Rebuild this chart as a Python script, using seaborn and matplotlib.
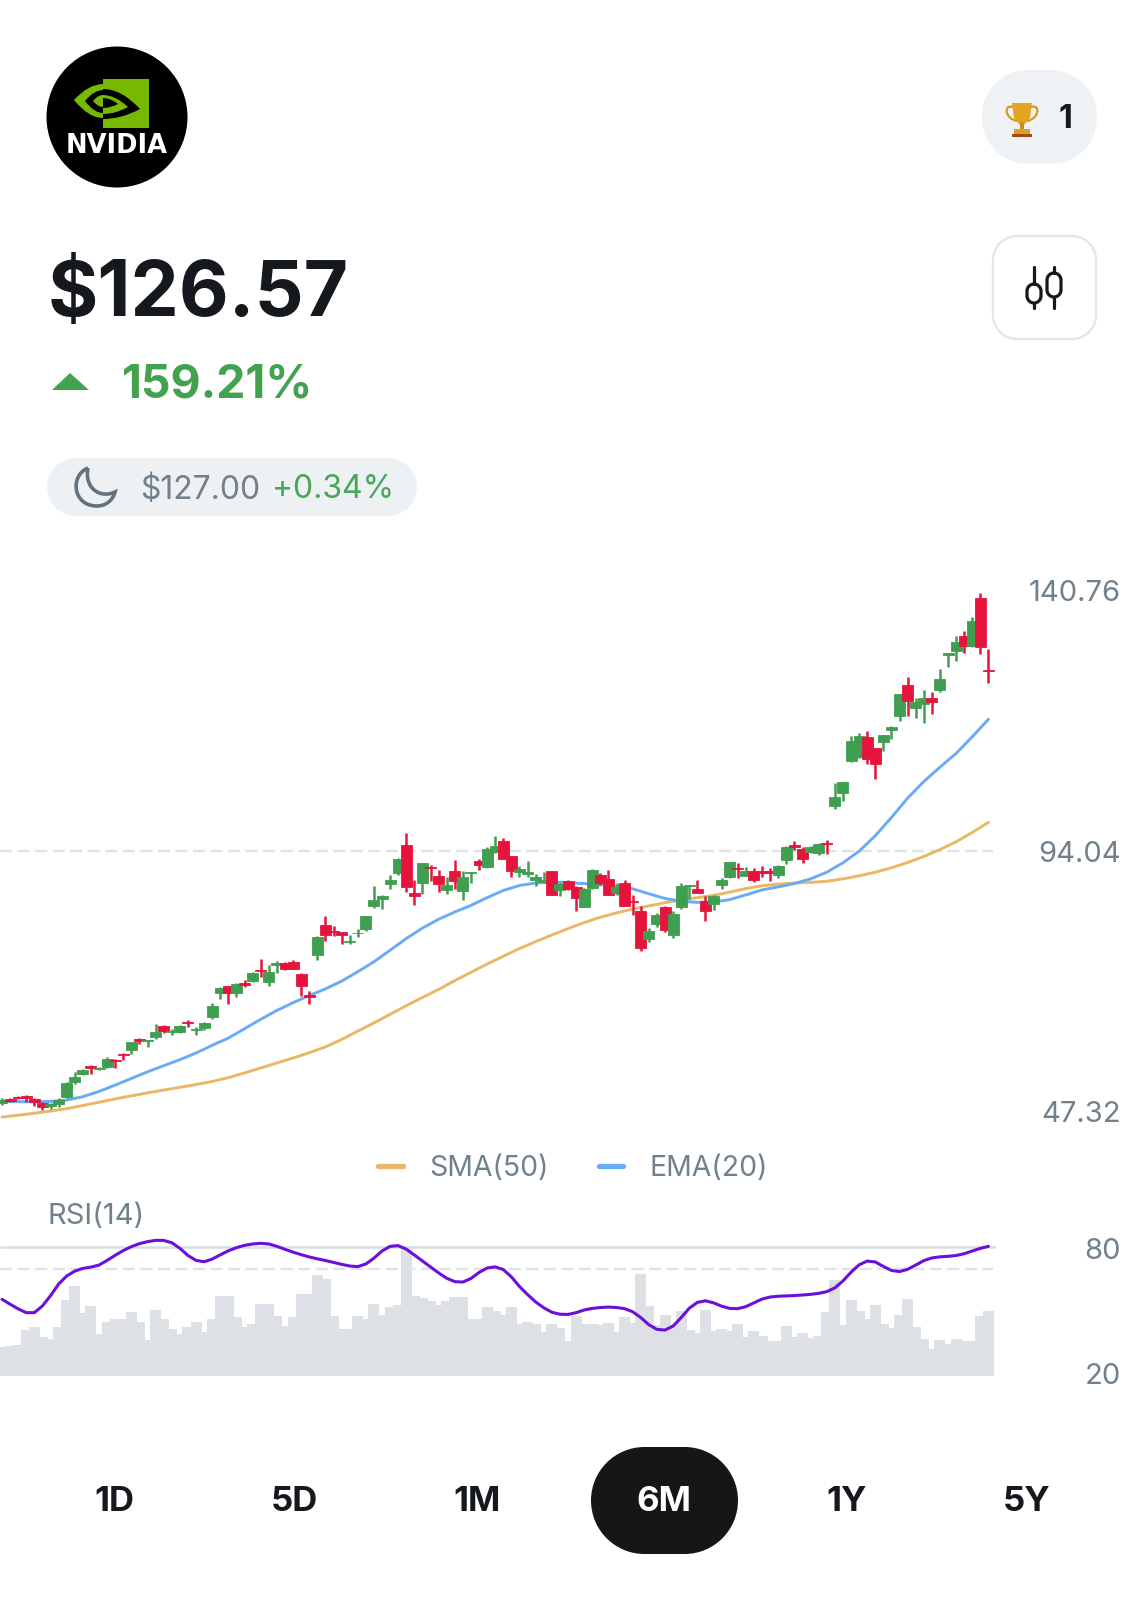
import numpy as np
import pandas as pd
import matplotlib
matplotlib.use("Agg")
from matplotlib import pyplot as plt
from matplotlib.patches import Circle, PathPatch, Polygon, Rectangle
from matplotlib.path import Path
from matplotlib.transforms import ScaledTranslation
import seaborn as sns

# daily candles, dollars
highs = [49.36, 49.36, 49.72, 49.91, 49.42, 48.7, 48.4, 49.42, 52.32, 54.13,
         54.55, 55.27, 55.03, 56.72, 56.36, 57.56, 59.55, 60.28, 59.85, 62.75,
         62.63, 61.78, 62.51, 63.47, 62.15, 63.17, 66.61, 69.38, 69.62, 70.16,
         70.71, 72.15, 74.57, 73.36, 74.2, 73.9, 74.33, 71.91, 68.78, 78.61,
         82.35, 80.48, 79.39, 78.91, 79.99, 82.35, 87.71, 86.02, 89.64, 92.72,
         97.36, 88.8, 91.93, 91.45, 90.61, 89.4, 92.36, 90.49, 90.31, 92.66,
         94.71, 96.76, 96.34, 93.2, 91.33, 92.23, 89.96, 90.31, 90.49, 88.32,
         88.8, 87.71, 87.29, 90.73, 90.12, 90.61, 88.19, 88.74, 86.14, 84.15,
         80.05, 82.77, 84.15, 83.25, 88.32, 87.96, 88.8, 85.91, 86.09, 89.1,
         92.12, 91.82, 91.09, 90.91, 91.33, 90.91, 91.57, 94.89, 95.8, 94.83,
         95.01, 95.43, 96.04, 106.29, 106.53, 114.91, 115.45, 115.82, 112.74, 115.09,
         116.66, 122.51, 125.58, 121.66, 123.11, 122.87, 126.97, 129.87, 132.94, 133.78,
         136.44, 140.76, 130.65]
lows = [48.09, 48.64, 49.12, 48.7, 47.97, 47.2, 47.31, 47.8, 49.42, 51.83,
        53.46, 53.7, 54.43, 54.85, 54.85, 56.24, 57.32, 59.13, 58.65, 60.04,
        61.06, 60.7, 61.06, 62.27, 60.82, 61.66, 63.71, 67.27, 66.43, 67.69,
        69.5, 70.35, 71.31, 69.68, 72.03, 72.52, 72.64, 67.81, 66.37, 74.33,
        77.7, 78.67, 77.22, 77.22, 78.43, 79.57, 83.79, 83.55, 87.23, 89.76,
        86.63, 84.28, 86.27, 88.68, 86.69, 86.27, 87.23, 85.18, 88.32, 90.61,
        90.97, 93.62, 92.54, 89.28, 89.28, 89.4, 87.71, 88.32, 86.02, 85.96,
        86.99, 83.19, 83.85, 87.11, 87.83, 86.02, 86.14, 84.09, 82.53, 76.01,
        77.64, 80.36, 79.33, 78.25, 83.55, 85.36, 86.39, 81.38, 83.37, 87.17,
        89.16, 89.16, 89.53, 88.44, 89.28, 88.68, 89.1, 91.7, 94.23, 91.94,
        93.63, 93.32, 93.44, 101.65, 103.15, 110.09, 110.87, 109.79, 107.07, 112.14,
        114.25, 117.62, 118.47, 118.11, 117.14, 118.89, 122.75, 127.27, 128.48, 129.8,
        131.01, 129.68, 124.5]
opens = [48.46, 49.18, 49.6, 49.72, 49.18, 48.4, 47.92, 48.28, 49.6, 52.32,
         53.64, 55.09, 54.55, 55.03, 56.3, 57.32, 58.05, 60.04, 59.61, 60.34,
         62.39, 61.36, 61.3, 63.11, 61.66, 62.09, 64.07, 68.3, 69.56, 68.3,
         70.1, 70.59, 72.52, 70.41, 73.42, 73.78, 74.02, 71.85, 67.93, 75.17,
         80.72, 79.63, 79.33, 77.58, 79.15, 79.99, 84.15, 85.42, 88.07, 90.12,
         95.19, 86.39, 88.19, 91.21, 89.52, 86.99, 90.37, 86.75, 90.0, 92.3,
         91.21, 93.92, 95.91, 93.14, 90.31, 89.88, 88.74, 88.44, 90.37, 86.99,
         88.68, 87.47, 83.97, 87.41, 89.64, 89.04, 86.45, 88.32, 84.99, 83.13,
         78.06, 80.84, 83.97, 78.85, 83.86, 87.66, 87.23, 85.0, 84.46, 87.9,
         89.4, 91.03, 89.59, 90.49, 90.37, 90.37, 89.7, 92.42, 95.07, 94.35,
         93.83, 93.75, 95.55, 102.19, 104.6, 110.27, 111.11, 114.73, 112.62, 113.77,
         115.94, 118.47, 124.08, 119.92, 120.64, 121.72, 123.17, 129.56, 130.17, 133.0,
         131.13, 139.87, 126.85]
closes = [49.0, 48.82, 49.3, 49.3, 48.58, 47.8, 48.22, 49.0, 52.14, 53.1,
          54.37, 54.79, 54.85, 56.36, 56.06, 57.14, 59.43, 59.73, 59.79, 61.24,
          61.54, 61.48, 62.39, 62.87, 61.84, 62.99, 66.07, 69.26, 68.3, 69.92,
          69.86, 72.03, 72.28, 72.09, 73.84, 72.76, 72.7, 69.62, 67.69, 78.49,
          78.91, 79.33, 78.85, 77.76, 79.21, 82.29, 85.18, 85.96, 88.8, 92.66,
          87.59, 85.9, 91.87, 90.97, 88.07, 87.83, 88.56, 89.34, 90.25, 91.45,
          94.35, 95.0, 92.66, 90.43, 90.73, 90.31, 89.34, 88.8, 86.08, 88.01,
          87.23, 85.54, 87.11, 90.67, 88.19, 86.08, 87.47, 84.15, 84.82, 76.44,
          79.63, 82.53, 79.75, 82.65, 87.78, 87.9, 86.51, 83.19, 85.91, 88.8,
          92.06, 90.73, 90.49, 88.8, 90.13, 90.13, 91.39, 94.71, 94.71, 92.54,
          94.83, 95.31, 95.25, 103.76, 106.53, 113.89, 114.85, 110.63, 109.79, 115.03,
          116.54, 122.45, 121.24, 121.0, 121.79, 121.0, 125.22, 129.81, 131.92, 131.13,
          135.71, 131.01, 126.57]

# volume in millions of shares
volumes = [132, 135, 138, 208, 219, 174, 165, 219, 340, 406,
           283, 316, 189, 241, 258, 258, 288, 241, 160, 298,
           258, 210, 190, 219, 243, 198, 256, 361, 361, 265,
           219, 234, 324, 324, 268, 225, 264, 370, 370, 454,
           436, 268, 213, 213, 270, 258, 325, 276, 309, 321,
           583, 358, 352, 339, 318, 337, 354, 354, 255, 255,
           310, 291, 276, 310, 234, 243, 234, 198, 234, 216,
           156, 268, 234, 232, 231, 237, 198, 264, 238, 459,
           316, 231, 273, 231, 291, 207, 195, 298, 201, 213,
           201, 234, 175, 201, 180, 159, 159, 223, 174, 192,
           171, 178, 289, 433, 231, 343, 294, 258, 318, 234,
           216, 276, 346, 219, 165, 123, 160, 144, 165, 156,
           159, 270, 294]

rsi = [56.57, 54.4, 52.3, 50.6, 50.6, 53.6, 58.2, 63.4, 67.0, 69.2,
       70.4, 71.0, 71.9, 74.0, 76.3, 78.4, 80.15, 81.5, 82.39, 82.99,
       82.95, 81.9, 79.4, 76.2, 74.0, 73.4, 74.6, 76.5, 78.3, 79.7,
       80.75, 81.35, 81.65, 81.35, 80.3, 78.95, 77.7, 76.57, 75.53, 74.7,
       73.95, 73.1, 72.24, 71.5, 71.2, 72.4, 75.0, 78.2, 80.3, 80.6,
       79.0, 76.4, 73.74, 71.05, 68.4, 66.0, 64.5, 64.3, 65.9, 68.6,
       70.6, 71.1, 69.9, 66.6, 62.3, 58.7, 55.4, 52.8, 50.8, 49.9,
       49.8, 50.6, 51.8, 52.5, 52.9, 53.1, 52.9, 52.4, 51.0, 48.4,
       45.2, 43.1, 42.8, 44.6, 48.4, 52.6, 55.2, 55.9, 55.0, 53.5,
       52.5, 52.4, 53.3, 55.0, 56.7, 57.6, 57.95, 58.1, 58.25, 58.5,
       58.8, 59.25, 60.0, 61.7, 64.8, 68.7, 72.0, 73.7, 73.3, 71.3,
       69.5, 69.0, 70.0, 71.9, 73.9, 75.1, 75.6, 75.8, 76.2, 77.0,
       78.2, 79.4, 80.3]

# both averages read every second day
avg_days = list(range(0, 123, 2))
sma = [45.92, 46.25, 46.6, 47.0, 47.45, 48.0, 48.6, 49.2, 49.75, 50.3,
       50.8, 51.3, 51.8, 52.35, 53.05, 53.9, 54.8, 55.7, 56.6, 57.55,
       58.6, 59.95, 61.45, 62.95, 64.5, 66.05, 67.55, 69.0, 70.6, 72.1,
       73.6, 75.0, 76.4, 77.65, 78.85, 80.0, 81.1, 82.05, 82.85, 83.55,
       84.1, 84.7, 85.2, 85.6, 86.0, 86.6, 87.25, 87.75, 88.05, 88.25,
       88.35, 88.55, 89.0, 89.55, 90.2, 91.0, 91.95, 93.05, 94.3, 95.7,
       97.4, 99.23]
ema = [48.76, 48.7, 48.66, 48.75, 49.0, 49.6, 50.55, 51.7, 52.9, 54.1,
       55.2, 56.3, 57.5, 58.9, 60.2, 61.9, 63.6, 65.2, 66.6, 67.9,
       69.1, 70.5, 72.2, 74.0, 76.1, 78.2, 80.1, 81.7, 83.0, 84.2,
       85.6, 86.9, 87.8, 88.25, 88.4, 88.3, 88.15, 87.95, 87.7, 87.2,
       86.3, 85.45, 84.95, 84.75, 84.8, 85.25, 86.1, 87.0, 87.55, 88.15,
       89.0, 90.2, 91.9, 94.0, 96.8, 100.1, 103.6, 106.6, 109.2, 111.7,
       114.7, 117.87]

price_ticks = [47.32, 94.04, 140.76]
rsi_ticks = [20, 80]
ranges = ["1D", "5D", "1M", "6M", "1Y", "5Y"]

W, H = 1144, 1600
GREEN, RED = "#3f9e4f", "#e6143c"
SLATE = "#70818c"
NV_GREEN = "#76b900"
FONT = ["Inter", "DejaVu Sans"]

sns.set_theme(style="white")
plt.rcParams["font.family"] = FONT

fig = plt.figure(figsize=(W / 100, H / 100), dpi=100, facecolor="white")


def px_axes(left, top, right, bottom, **kw):
    # axes placed by pixel box, y counted from the top of the picture
    return fig.add_axes([left / W, 1 - bottom / H, (right - left) / W, (bottom - top) / H], **kw)


def nudge(label, px_up):
    label.set_transform(label.get_transform() + ScaledTranslation(0, px_up * 0.72 / 72, fig.dpi_scale_trans))


# --- app chrome, drawn in pixels -----------------------------------------
ui = px_axes(0, 0, W, H)
ui.set_xlim(0, W)
ui.set_ylim(H, 0)
ui.axis("off")


def pill(x0, y0, x1, y1, r, **kw):
    # rounded box with true circular corners
    k = 0.5523 * r
    verts = [(x0 + r, y0), (x1 - r, y0),
             (x1 - r + k, y0), (x1, y0 + r - k), (x1, y0 + r),
             (x1, y1 - r),
             (x1, y1 - r + k), (x1 - r + k, y1), (x1 - r, y1),
             (x0 + r, y1),
             (x0 + r - k, y1), (x0, y1 - r + k), (x0, y1 - r),
             (x0, y0 + r),
             (x0, y0 + r - k), (x0 + r - k, y0), (x0 + r, y0)]
    codes = [Path.MOVETO, Path.LINETO, Path.CURVE4, Path.CURVE4, Path.CURVE4, Path.LINETO,
             Path.CURVE4, Path.CURVE4, Path.CURVE4, Path.LINETO, Path.CURVE4, Path.CURVE4, Path.CURVE4,
             Path.LINETO, Path.CURVE4, Path.CURVE4, Path.CURVE4]
    ui.add_patch(PathPatch(Path(verts, codes), **kw))


def lens(tip_x, tip_y, top, bottom, color):
    # one half of the eye in the logo, flat side on the seam at x=103
    mid = (tip_x + 103) / 2
    verts = [(103, top), (mid, top), (tip_x, tip_y), (mid, bottom), (103, bottom), (103, top)]
    codes = [Path.MOVETO, Path.CURVE3, Path.CURVE3, Path.CURVE3, Path.CURVE3, Path.CLOSEPOLY]
    ui.add_patch(PathPatch(Path(verts, codes), fc=color, ec="none"))


# logo
ui.add_patch(Circle((117, 117), 70.5, color="black", lw=0))
ui.add_patch(Rectangle((103, 79), 46, 49, color=NV_GREEN, lw=0))
for tip_x, tip_y, top, bottom, color in [(74, 100, 84, 118, NV_GREEN), (85, 101, 90, 113, "black"),
                                         (93, 101, 95, 107, NV_GREEN), (140, 109, 89, 119, "black"),
                                         (128, 107, 95, 114, NV_GREEN), (118, 104, 98, 108, "black")]:
    lens(tip_x, tip_y, top, bottom, color)
ui.text(117, 146, "NVIDIA", color="white", fontsize=18.5, fontweight="bold", ha="center", va="center",
        family="DejaVu Sans")

# trophy pill
pill(982, 70, 1097, 164, 46, fc="#eff2f5", ec="none")
ui.add_patch(Polygon([(1012, 103), (1032, 103), (1030, 118), (1024, 125), (1020, 125), (1014, 118)],
                     color="#e3a41f", lw=0))
for path in ([(1013, 107), (1003, 104), (1005, 119), (1017, 121)],
             [(1031, 107), (1041, 104), (1039, 119), (1027, 121)]):
    ui.add_patch(PathPatch(Path(path, [Path.MOVETO, Path.CURVE4, Path.CURVE4, Path.CURVE4]),
                           fc="none", ec="#d99a1c", lw=1.6))
ui.add_patch(Rectangle((1020, 122), 4, 8, color="#cf8f18", lw=0))
ui.add_patch(Rectangle((1014, 129), 16, 5, color="#d9a02a", lw=0))
ui.add_patch(Rectangle((1012, 134), 20, 3, color="#9c4a1a", lw=0))
ui.text(1065, 120, "1", color="#15191e", fontsize=23, fontweight="bold", ha="center", va="center")

# chart type button
pill(993, 236, 1096, 339, 24, fc="white", ec="#e4e7ea", lw=1.7)
for cx, y0, y1 in [(1034, 284, 303), (1054, 273, 297)]:
    ui.plot([cx, cx], [267, y0], color="#15191e", lw=2.3, solid_capstyle="round")
    ui.plot([cx, cx], [y1, 308], color="#15191e", lw=2.3, solid_capstyle="round")
    pill(cx - 7, y0, cx + 7, y1, 7, fc="white", ec="#15191e", lw=2.3)

# price block
ui.text(48, 295, "$126.57", color="#15191e", fontsize=55.3, fontweight="bold", va="center")
ui.add_patch(Polygon([(52, 390), (70, 373), (89, 390)], color="#43a24f", lw=0))
ui.text(122, 385, "159.21%", color="#43a24f", fontsize=33.4, fontweight="bold", va="center")

# after hours pill
pill(47, 458, 417, 516, 29, fc="#eef1f4", ec="none")
moon = Path([(88, 468), (70, 475), (72, 506), (97, 506), (106, 506), (113, 500), (115, 492),
             (100, 499), (84, 488), (88, 468)],
            [Path.MOVETO] + [Path.CURVE4] * 9)
ui.add_patch(PathPatch(moon, fc="none", ec="#62727f", lw=2.6))
ui.text(140, 490, "$127.00", color=SLATE, fontsize=23, va="center")
ui.text(272, 490, "+0.34%", color="#49a557", fontsize=23, va="center")

ui.text(47, 1216, "RSI(14)", color=SLATE, fontsize=21, va="center")

# range selector
pill(591, 1447, 738, 1554, 53.5, fc="#161616", ec="none")
for label, cx in zip(ranges, [114, 294, 477, 664, 847, 1027]):
    ui.text(cx, 1502, label, color="white" if label == "6M" else "#15191e", fontsize=25,
            fontweight="bold", ha="center", va="center")

# --- price panel -----------------------------------------------------------
days = np.arange(len(closes))
ohlc = pd.DataFrame({"open": opens, "high": highs, "low": lows, "close": closes}, index=days)
candle_colors = np.where(ohlc["close"] >= ohlc["open"], GREEN, RED)
body_low = ohlc[["open", "close"]].min(axis=1)
body_height = (ohlc["close"] - ohlc["open"]).abs()

day_range = (-0.247, 122.93)
DASH = (0, (5.08, 2.35))
ax = px_axes(0, 560, 996, 1125, facecolor="none")
ax.hlines(94.04, day_range[0], 122.6, color="#dfe3e7", lw=1.7, linestyles=DASH, zorder=1)
ax.vlines(days, ohlc["low"], ohlc["high"], colors=candle_colors, lw=1.8, zorder=3)
ax.bar(days, body_height, bottom=body_low, width=1.36, color=candle_colors, edgecolor=candle_colors,
       lw=0.6, zorder=3)

sns.lineplot(x=avg_days, y=sma, ax=ax, color="#eab766", lw=2.1, label="SMA(50)", zorder=2)
sns.lineplot(x=avg_days, y=ema, ax=ax, color="#6aabf6", lw=2.1, label="EMA(20)", zorder=2)
handles, labels = ax.get_legend_handles_labels()
ax.get_legend().remove()

ax.set_xlim(*day_range)
ax.set_ylim(44.48, 146.67)
ax.set_xticks([])
ax.set_yticks(price_ticks)
ax.set_yticklabels([f"{t:.2f}" for t in price_ticks])
ax.yaxis.tick_right()
ax.tick_params(axis="y", length=0, pad=90, labelsize=21, labelcolor=SLATE)
plt.setp(ax.get_yticklabels(), ha="right")
for lab, up in zip(ax.get_yticklabels(), [-2, -1, 2]):
    nudge(lab, up)
ax.set(xlabel=None, ylabel=None)
sns.despine(ax=ax, left=True, bottom=True, right=True, top=True)

leg = fig.legend(handles, labels, loc="center", bbox_to_anchor=(573 / W, 1 - 1168 / H), ncol=2,
                 frameon=False, fontsize=20.5, labelcolor=SLATE, handlelength=0.85,
                 handletextpad=0.92, columnspacing=1.78)
for line in leg.get_lines():
    line.set_linewidth(3.8)
    line.set_solid_capstyle("round")

# --- volume behind RSI -------------------------------------------------------
vol_ax = px_axes(0, 1223, 996, 1376, facecolor="none")
sns.barplot(x=days, y=volumes, ax=vol_ax, native_scale=True, color="#dde1e5", saturation=1,
            width=1.36, linewidth=0)
vol_ax.set_xlim(*day_range)
vol_ax.set_ylim(0, 688.5)
vol_ax.axis("off")

rsi_ax = px_axes(0, 1226, 996, 1381, facecolor="none")
rsi_ax.hlines(80, day_range[0], day_range[1], color="#d8dee2", lw=1.8, zorder=1)
rsi_ax.hlines(70, day_range[0], 122.6, color="#dfe3e7", lw=1.7, linestyles=DASH, zorder=1)
sns.lineplot(x=days, y=rsi, ax=rsi_ax, color="#6a0fdc", lw=2.2, zorder=2)
rsi_ax.set_xlim(*day_range)
rsi_ax.set_ylim(20, 89.4)
rsi_ax.set_xticks([])
rsi_ax.set_yticks(rsi_ticks)
rsi_ax.yaxis.tick_right()
rsi_ax.tick_params(axis="y", length=0, pad=90, labelsize=21, labelcolor=SLATE)
plt.setp(rsi_ax.get_yticklabels(), ha="right")
for lab, up in zip(rsi_ax.get_yticklabels(), [7, -2]):
    nudge(lab, up)
rsi_ax.set(xlabel=None, ylabel=None)
sns.despine(ax=rsi_ax, left=True, bottom=True, right=True, top=True)

fig.savefig("out.png", dpi=100)
